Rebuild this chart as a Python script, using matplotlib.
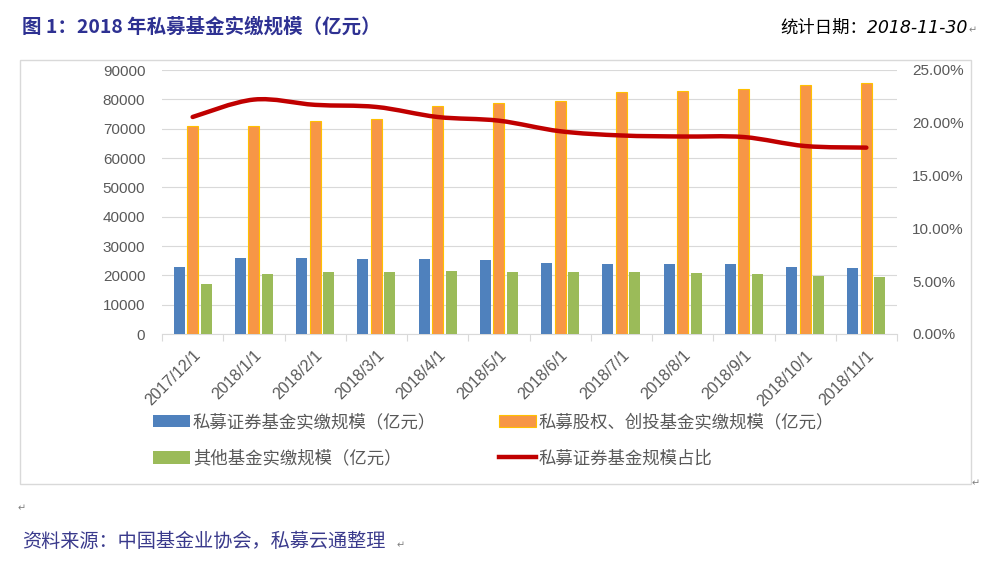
import numpy as np
import matplotlib
matplotlib.use("Agg")
import matplotlib.pyplot as plt
from matplotlib.path import Path
from matplotlib.patches import PathPatch, Rectangle
from matplotlib.lines import Line2D
from matplotlib.ticker import FuncFormatter, MultipleLocator

plt.rcParams["font.family"] = ["Liberation Sans", "Noto Sans CJK SC", "DejaVu Sans"]

# ── Data ───────────────────────────────────────────────────────────────────
dates = ["2017/12/1", "2018/1/1", "2018/2/1", "2018/3/1", "2018/4/1", "2018/5/1",
         "2018/6/1", "2018/7/1", "2018/8/1", "2018/9/1", "2018/10/1", "2018/11/1"]
securities = [22900, 26000, 26000, 25700, 25700, 25200,
              24200, 23900, 23900, 23900, 22900, 22600]
equity_vc = [71000, 71000, 72700, 73400, 77700, 78700,
             79500, 82400, 82900, 83500, 84900, 85500]
other = [17100, 20500, 21100, 21100, 21500, 21100,
         21100, 21100, 20800, 20500, 19900, 19400]
sec_share = [0.2055, 0.222, 0.217, 0.215, 0.2055, 0.202,
             0.192, 0.188, 0.187, 0.1865, 0.178, 0.1765]

LBL_SEC = "私募证券基金实缴规模（亿元）"
LBL_EQ = "私募股权、创投基金实缴规模（亿元）"
LBL_OTH = "其他基金实缴规模（亿元）"
LBL_SHARE = "私募证券基金规模占比"

# ── Style ──────────────────────────────────────────────────────────────────
C_BLUE = "#4F81BD"
C_ORANGE = "#F79646"
C_GREEN = "#9BBB59"
C_RED = "#C00000"
C_GRID = "#D9D9D9"
C_TICK = "#595959"
C_NAVY = "#2E3192"
W = 0.18
OFF = 0.22

W_PX, H_PX = 992, 563
fig = plt.figure(figsize=(W_PX / 100, H_PX / 100), dpi=100)

# outer chart frame
fig.patches.append(Rectangle((19.5 / W_PX, 1 - 484 / H_PX), 951 / W_PX, 424 / H_PX,
                             transform=fig.transFigure, fill=False,
                             edgecolor=C_GRID, lw=1.0))

ax = fig.add_axes([162 / W_PX, 1 - 334 / H_PX, 735 / W_PX, 264 / H_PX])
x = np.arange(len(dates))

ax.bar(x - OFF, securities, W, color=C_BLUE, zorder=3)
ax.bar(x, equity_vc, W, color=C_ORANGE, edgecolor="#FFC000", lw=0.8, zorder=3)
ax.bar(x + OFF, other, W, color=C_GREEN, zorder=3)

ax.set_xlim(-0.5, len(dates) - 0.5)
ax.set_ylim(0, 90000)
ax.yaxis.set_major_locator(MultipleLocator(10000))
ax.grid(axis="y", color=C_GRID, lw=0.8, zorder=0)
ax.set_axisbelow(True)
for s in ("top", "right", "left"):
    ax.spines[s].set_visible(False)
ax.spines["bottom"].set_color(C_GRID)
ax.tick_params(axis="y", length=0, pad=12, labelsize=11, labelcolor=C_TICK)

ax.set_xticks(x)
ax.set_xticklabels(dates, rotation=45, ha="right", va="top",
                   rotation_mode="anchor", fontsize=11.5, color=C_TICK)
ax.tick_params(axis="x", which="major", length=0, pad=10)
ax.set_xticks(np.arange(-0.5, len(dates)), minor=True)
ax.tick_params(axis="x", which="minor", length=5, color=C_GRID, width=0.8)

# secondary axis – share line
ax2 = ax.twinx()
ax2.set_ylim(0, 0.25)
ax2.yaxis.set_major_locator(MultipleLocator(0.05))
ax2.yaxis.set_major_formatter(FuncFormatter(lambda v, _: f"{v * 100:.2f}%"))
ax2.tick_params(axis="y", length=0, pad=11, labelsize=11, labelcolor=C_TICK)
for s in ("top", "right", "left", "bottom"):
    ax2.spines[s].set_visible(False)

# smoothed line (Catmull-Rom rendered as cubic Bezier through the data points)
pts = np.column_stack([x, sec_share]).astype(float)
verts = [pts[0]]
codes = [Path.MOVETO]
n = len(pts)
for i in range(n - 1):
    p0 = pts[max(i - 1, 0)]
    p1 = pts[i]
    p2 = pts[i + 1]
    p3 = pts[min(i + 2, n - 1)]
    verts += [p1 + (p2 - p0) / 6, p2 - (p3 - p1) / 6, p2]
    codes += [Path.CURVE4] * 3
ax2.add_patch(PathPatch(Path(verts, codes), facecolor="none", edgecolor=C_RED,
                        lw=3.2, capstyle="round", joinstyle="round", zorder=4))

# legend
handles = [
    Rectangle((0, 0), 1, 1, facecolor=C_BLUE),
    Rectangle((0, 0), 1, 1, facecolor=C_GREEN),
    Rectangle((0, 0), 1, 1, facecolor=C_ORANGE, edgecolor="#FFC000", lw=0.8),
    Line2D([0], [0], color=C_RED, lw=3.2),
]
labels = [LBL_SEC, LBL_OTH, LBL_EQ, LBL_SHARE]
fig.legend(handles, labels, loc="upper left",
           bbox_to_anchor=(153 / W_PX, 1 - 413 / H_PX),
           ncol=2, frameon=False, fontsize=12.5, borderpad=0, borderaxespad=0,
           handlelength=2.13, handletextpad=0.17, columnspacing=3.6,
           labelspacing=1.15, labelcolor=C_TICK)

# texts around the chart
fig.text(22 / W_PX, 1 - 27 / H_PX, "图 1：2018 年私募基金实缴规模（亿元）",
         fontsize=14, fontweight="bold", color=C_NAVY, va="center", ha="left",
         family=["Noto Sans CJK SC", "DejaVu Sans"])
fig.text(968 / W_PX, 1 - 28 / H_PX, "统计日期：2018-11-30",
         fontsize=12.5, style="italic", color="black", va="center", ha="right",
         family=["DejaVu Sans", "Noto Sans CJK SC"])
fig.text(22 / W_PX, 1 - 541 / H_PX, "资料来源：中国基金业协会，私募云通整理",
         fontsize=13.8, color="#3A3A8C", va="center", ha="left",
         family=["Noto Sans CJK SC", "DejaVu Sans"])

# Word paragraph marks
for px, py in [(973, 30), (22, 508), (976, 483), (401, 545)]:
    fig.text(px / W_PX, 1 - py / H_PX, "↵", fontsize=7, color="#808080",
             va="center", ha="center", family=["DejaVu Sans"])

fig.savefig("out.png", dpi=100)
